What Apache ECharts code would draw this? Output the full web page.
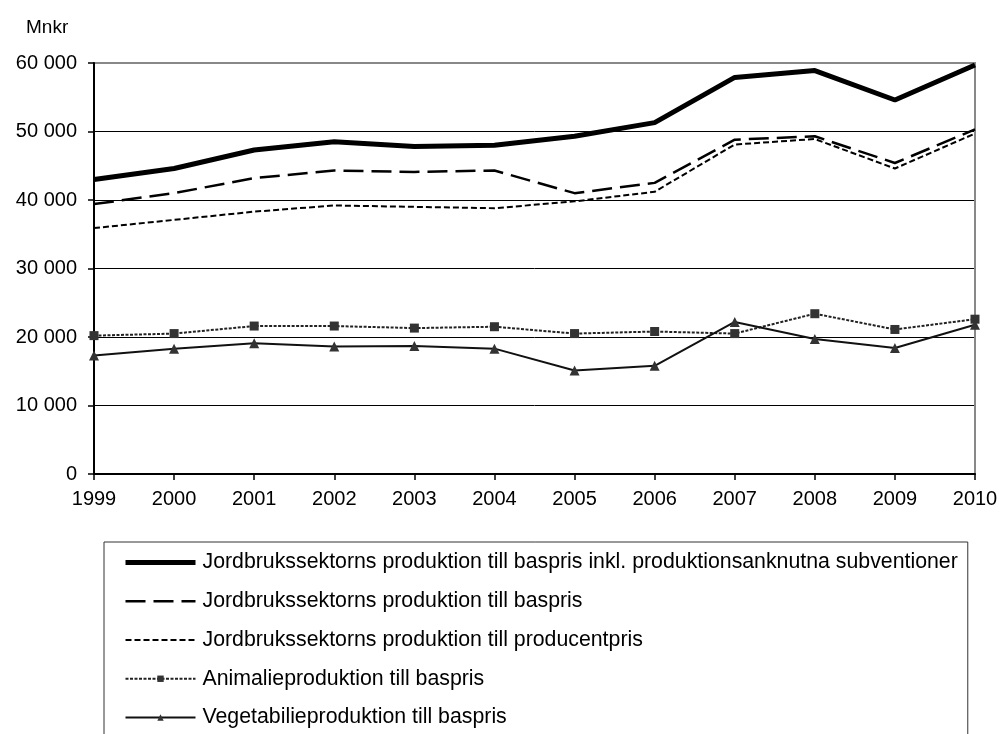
<!DOCTYPE html>
<html>
<head>
<meta charset="utf-8">
<script src="https://cdn.jsdelivr.net/npm/echarts@6/dist/echarts.min.js"></script>
<style>html,body{margin:0;padding:0;background:#fff}#c{width:1002px;height:734px}</style>
</head>
<body>
<div id="c"></div>
<script>
const years = ['1999','2000','2001','2002','2003','2004','2005','2006','2007','2008','2009','2010'];
const names = [
  'Jordbrukssektorns produktion till baspris inkl. produktionsanknutna subventioner',
  'Jordbrukssektorns produktion till baspris',
  'Jordbrukssektorns produktion till producentpris',
  'Animalieproduktion till baspris',
  'Vegetabilieproduktion till baspris'
];
const inklSubv   = [43000, 44600, 47300, 48500, 47800, 48000, 49300, 51300, 57900, 58900, 54600, 59700];
const baspris    = [39400, 41000, 43200, 44300, 44100, 44300, 41000, 42500, 48800, 49300, 45400, 50300];
const producent  = [35900, 37100, 38300, 39200, 39000, 38800, 39800, 41200, 48100, 48900, 44600, 49700];
const animalie   = [20200, 20500, 21600, 21600, 21300, 21500, 20500, 20800, 20500, 23400, 21100, 22600];
const vegetabilie= [17300, 18300, 19100, 18600, 18700, 18300, 15100, 15800, 22200, 19700, 18400, 21800];
const yTicks = [0, 10000, 20000, 30000, 40000, 50000, 60000];

const font = 'Liberation Sans, Arial, sans-serif';
const chart = echarts.init(document.getElementById('c'), null, {renderer: 'canvas'});
const noSym = {opacity: 0};
chart.setOption({
  animation: false,
  backgroundColor: '#fff',
  title: {
    text: 'Mnkr', left: 21, top: 13,
    textStyle: {fontFamily: font, fontSize: 19, fontWeight: 'normal', color: '#000'}
  },
  grid: {left: 94, right: 27, top: 63, bottom: 260, show: true, borderColor: '#888', borderWidth: 2, backgroundColor: 'transparent'},
  xAxis: {
    type: 'category', data: years, boundaryGap: false,
    axisLine: {lineStyle: {color: '#000', width: 2}},
    axisTick: {show: true, inside: false, length: 6, alignWithLabel: true, lineStyle: {color: '#000', width: 1.5}},
    axisLabel: {fontFamily: font, fontSize: 20, color: '#000', margin: 15}
  },
  yAxis: [{
    type: 'value', min: yTicks[0], max: yTicks[yTicks.length - 1], interval: 10000,
    axisLine: {show: true, lineStyle: {color: '#000', width: 2}},
    axisTick: {show: true, inside: false, length: 6, lineStyle: {color: '#000', width: 1.5}},
    axisLabel: {fontFamily: font, fontSize: 20, color: '#000', margin: 17,
      formatter: v => v === 0 ? '0' : String(v).replace(/\B(?=(\d{3})+(?!\d))/g, ' ')},
    splitLine: {show: true, lineStyle: {color: ['#000','#000','#000','#000','#000','#000','#888'], width: 1}}
  }, {
    type: 'value', min: yTicks[0], max: yTicks[yTicks.length - 1], interval: 10000, position: 'right',
    axisLine: {show: true, lineStyle: {color: '#888', width: 2}},
    axisTick: {show: false}, axisLabel: {show: false}, splitLine: {show: false}
  }],
  legend: {
    orient: 'vertical', left: 104, top: 542, height: 230,
    padding: [10, 10, 40, 19],
    borderColor: '#333', borderWidth: 1,
    itemWidth: 70, itemHeight: 8, itemGap: 17.75,
    textStyle: {fontFamily: font, fontSize: 21.3, color: '#000', lineHeight: 21, padding: [0, 0, 0, 2]},
    data: [
      {name: names[0], lineStyle: {width: 5}, itemStyle: noSym},
      {name: names[1], lineStyle: {width: 2.5}, itemStyle: noSym},
      {name: names[2], lineStyle: {width: 2}, itemStyle: noSym},
      {name: names[3], lineStyle: {width: 2}},
      {name: names[4], lineStyle: {width: 2}}
    ]
  },
  series: [
    {name: names[0], type: 'line', data: inklSubv, symbol: 'none', color: '#000',
     lineStyle: {color: '#000', width: 5}, z: 5},
    {name: names[1], type: 'line', data: baspris, symbol: 'none', color: '#000',
     lineStyle: {color: '#000', width: 2.5, type: [20, 8]}, z: 4},
    {name: names[2], type: 'line', data: producent, symbol: 'none', color: '#000',
     lineStyle: {color: '#000', width: 2, type: [6, 3]}, z: 4},
    {name: names[3], type: 'line', data: animalie, symbol: 'rect', symbolSize: 9, color: '#333',
     itemStyle: {color: '#333'}, lineStyle: {color: '#222', width: 2, type: [3, 1.5]}, z: 4},
    {name: names[4], type: 'line', data: vegetabilie, symbol: 'triangle', symbolSize: 10, color: '#333',
     itemStyle: {color: '#333'}, lineStyle: {color: '#111', width: 2}, z: 4}
  ]
});
</script>
</body>
</html>
